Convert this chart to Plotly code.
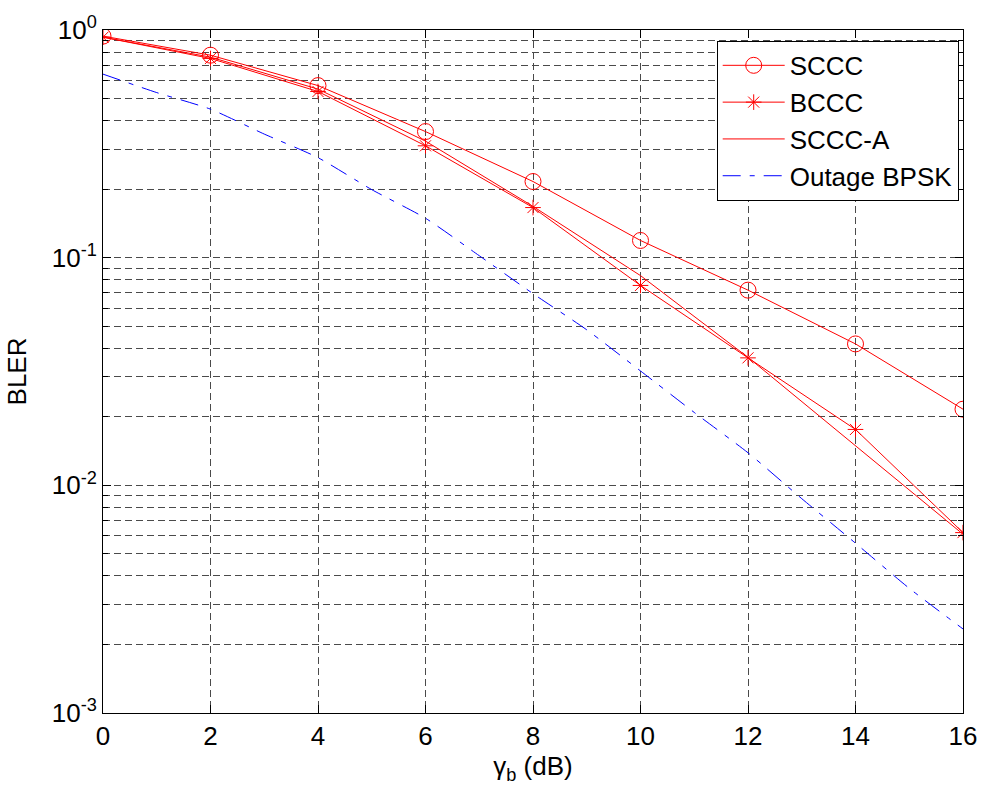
import plotly.graph_objects as go

# Eb/N0 points (dB) for the simulated codes
snr_db = [0, 2, 4, 6, 8, 10, 12, 14, 16]

# Block error rates per scheme
bler_sccc = [0.94, 0.775, 0.57, 0.358, 0.216, 0.119, 0.072, 0.0418, 0.0216]
bler_bccc = [0.93, 0.75, 0.537, 0.31, 0.166, 0.0755, 0.0363, 0.0176, 0.0062]
bler_sccc_a = [0.93, 0.76, 0.55, 0.325, 0.168, 0.0834, 0.0365, 0.0149, 0.0061]

# Outage probability bound for BPSK, evaluated on a 1 dB grid
snr_outage = [0, 1, 2, 3, 4, 5, 6, 7, 8, 9, 10, 11, 12, 13, 14, 15, 16]
outage_bpsk = [0.64, 0.531, 0.449, 0.349, 0.275, 0.199, 0.149, 0.102, 0.0695,
               0.0482, 0.0318, 0.0209, 0.0139, 0.00874, 0.00557, 0.00353, 0.00234]

x_ticks = [0, 2, 4, 6, 8, 10, 12, 14, 16]
y_ticks = [1, 0.1, 0.01, 0.001]
y_tick_text = ["10<sup>0</sup>", "10<sup>-1</sup>", "10<sup>-2</sup>", "10<sup>-3</sup>"]

RED = "#ff0000"
BLUE = "#0000ff"
GRID = "#4a4a4a"
FONT = "Liberation Sans, Arial, sans-serif"
FS = 26

fig = go.Figure()

fig.add_trace(go.Scatter(
    x=snr_db, y=bler_sccc, name="SCCC", mode="lines+markers",
    line=dict(color=RED, width=1),
    marker=dict(symbol="circle-open", size=16, color=RED, line=dict(width=1, color=RED)),
))
fig.add_trace(go.Scatter(
    x=snr_db, y=bler_bccc, name="BCCC", mode="lines+markers",
    line=dict(color=RED, width=1),
    marker=dict(symbol="asterisk-open", size=13, color=RED, line=dict(width=1, color=RED)),
))
fig.add_trace(go.Scatter(
    x=snr_db, y=bler_sccc_a, name="SCCC-A", mode="lines",
    line=dict(color=RED, width=1),
))
fig.add_trace(go.Scatter(
    x=snr_outage, y=outage_bpsk, name="Outage BPSK", mode="lines",
    line=dict(color=BLUE, width=1, dash="18px,9px,5px,9px", shape="spline", smoothing=0.6),
))

fig.update_layout(
    width=989, height=794,
    margin=dict(l=103, r=18, t=29, b=81),
    paper_bgcolor="white", plot_bgcolor="white",
    font=dict(family=FONT, size=FS, color="black"),
    showlegend=True,
    legend=dict(
        x=0.995, y=0.984, xanchor="right", yanchor="top",
        bgcolor="white", bordercolor="black", borderwidth=1,
        font=dict(family=FONT, size=FS, color="black"),
        itemwidth=62, tracegroupgap=0,
    ),
)

fig.update_xaxes(
    range=[0, 16], tickvals=x_ticks,
    showline=True, linecolor="black", linewidth=1, mirror="ticks",
    ticks="inside", ticklen=8, tickcolor="black",
    showgrid=True, gridcolor=GRID, gridwidth=1, griddash="7px,4px",
    zeroline=False,
    title=dict(text="γ<sub>b</sub> (dB)", font=dict(family=FONT, size=FS), standoff=2),
)

fig.update_yaxes(
    type="log", range=[-3, 0],
    tickvals=y_ticks, ticktext=y_tick_text,
    showline=True, linecolor="black", linewidth=1, mirror="ticks",
    ticks="inside", ticklen=8, tickcolor="black",
    showgrid=True, gridcolor=GRID, gridwidth=1, griddash="7px,4px",
    zeroline=False,
    minor=dict(dtick="D1", ticks="inside", ticklen=5, tickcolor="black",
               showgrid=True, gridcolor=GRID, gridwidth=1, griddash="7px,4px"),
    title=dict(text="BLER", font=dict(family=FONT, size=FS), standoff=17),
)

fig.write_html("out.html")
